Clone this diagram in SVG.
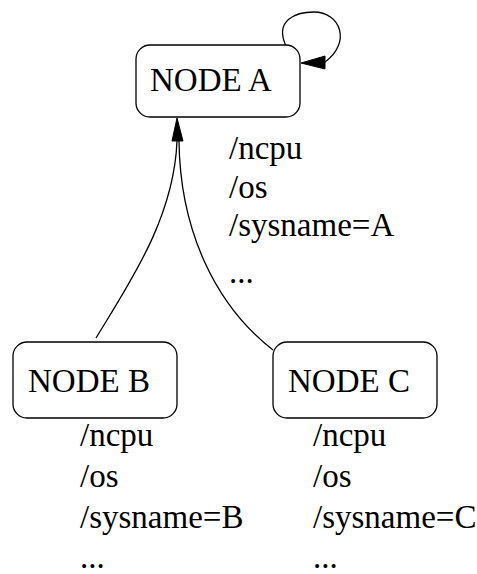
<svg xmlns="http://www.w3.org/2000/svg" width="477" height="574" viewBox="0 0 477 574">
  <style>
    .box { fill: #ffffff; stroke: #000000; stroke-width: 1.3; }
    .edge { fill: none; stroke: #000000; stroke-width: 1.3; }
    .head { fill: #000000; stroke: #000000; stroke-width: 1; }
    .lbl { font-family: 'Liberation Serif', 'Times New Roman', Times, 'DejaVu Serif', serif; font-size: 33px; fill: #000000; }
  </style>
  <rect width="477" height="574" fill="#ffffff"/>

  <g id="connectors">
    <!-- B -> A -->
    <path class="edge" d="M96,338 C130,282 174,218 177,141"/>
    <!-- C -> A -->
    <path class="edge" d="M273,350 C215,305 180,230 179,141"/>
    <polygon class="head" points="177,118 172,141 183,141"/>
    <!-- A -> A self loop -->
    <path class="edge" d="M286,46 C274,20 296,12 314,12 C340,12 352,42 325,62"/>
    <polygon class="head" points="301,63 325,56 325,69"/>
  </g>

  <g id="nodeA" class="lbl">
    <rect class="box" x="136" y="45" width="164" height="72" rx="14" ry="14"/>
    <text x="150" y="91">NODE A</text>
    <text x="229" y="159">/ncpu</text>
    <text x="229" y="198">/os</text>
    <text x="229" y="236">/sysname=A</text>
    <text x="229" y="283">...</text>
  </g>

  <g id="nodeB" class="lbl">
    <rect class="box" x="13" y="342" width="164" height="76" rx="14" ry="14"/>
    <text x="28" y="392">NODE B</text>
    <text x="80" y="446">/ncpu</text>
    <text x="80" y="487">/os</text>
    <text x="80" y="528">/sysname=B</text>
    <text x="80" y="568">...</text>
  </g>

  <g id="nodeC" class="lbl">
    <rect class="box" x="273" y="342" width="164" height="76" rx="14" ry="14"/>
    <text x="288" y="392">NODE C</text>
    <text x="313" y="446">/ncpu</text>
    <text x="313" y="487">/os</text>
    <text x="313" y="528">/sysname=C</text>
    <text x="313" y="568">...</text>
  </g>
</svg>
